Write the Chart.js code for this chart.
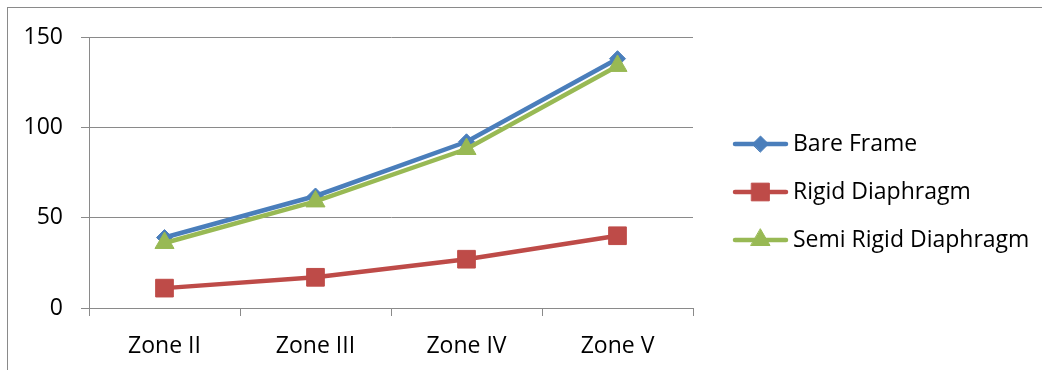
<!DOCTYPE html>
<html>
<head>
<meta charset="utf-8">
<script src="https://cdn.jsdelivr.net/npm/chart.js@4/dist/chart.umd.min.js"></script>
<style>
  html, body { margin: 0; padding: 0; background: #fff; }
  #wrap { position: relative; width: 1042px; height: 370px; overflow: hidden; }
  #frame { position: absolute; left: 7px; top: 7px; width: 1100px; height: 400px;
           border-top: 1px solid #8a8a8a; border-left: 1px solid #8a8a8a; }
  #chart { position: absolute; left: 0; top: 0; }
</style>
</head>
<body>
<div id="wrap">
  <div id="frame"></div>
  <canvas id="chart" width="1042" height="370"></canvas>
</div>
<script>
// --- data ---
const zones = ["Zone II", "Zone III", "Zone IV", "Zone V"];
const bareFrame = [39, 62, 92, 138];
const rigidDiaphragm = [11, 17, 27, 40];
const semiRigidDiaphragm = [36, 59, 88, 134];
const yTicks = [0, 50, 100, 150];

const FONT = { family: "'Open Sans', sans-serif", size: 23 };
const GRID = '#8a8a8a';

// Excel-style legend: short line with the marker in the middle, label to the right
const lineLegend = {
    id: 'lineLegend',
    afterDraw(chart, args, opts) {
        const ctx = chart.ctx;
        const x0 = chart.chartArea.right + opts.gap;
        chart.data.datasets.forEach((ds, i) => {
            const y = opts.top + i * opts.rowHeight;
            ctx.save();
            ctx.strokeStyle = ds.borderColor;
            ctx.lineWidth = ds.borderWidth;
            ctx.lineCap = 'round';
            ctx.beginPath();
            ctx.moveTo(x0 + 2, y);
            ctx.lineTo(x0 + opts.lineLength - 2, y);
            ctx.stroke();
            ctx.fillStyle = ds.pointBackgroundColor;
            ctx.strokeStyle = ds.pointBorderColor;
            ctx.lineWidth = ds.pointBorderWidth;
            Chart.helpers.drawPoint(ctx, {
                pointStyle: ds.pointStyle,
                radius: ds.pointRadius,
                borderWidth: ds.pointBorderWidth,
                rotation: 0
            }, x0 + opts.lineLength / 2, y);
            ctx.fillStyle = '#000';
            ctx.font = FONT.size + 'px ' + FONT.family;
            ctx.textBaseline = 'middle';
            ctx.textAlign = 'left';
            ctx.fillText(ds.label, x0 + opts.lineLength + 5, y);
            ctx.restore();
        });
    }
};

function series(label, data, color, style, radius, order) {
    return {
        label: label,
        data: data,
        borderColor: color,
        backgroundColor: color,
        borderWidth: 4.5,
        pointStyle: style,
        pointRadius: radius,
        pointHoverRadius: radius,
        pointBackgroundColor: color,
        pointBorderColor: color,
        pointBorderWidth: 1,
        tension: 0,
        order: order
    };
}

new Chart(document.getElementById('chart').getContext('2d'), {
    type: 'line',
    data: {
        labels: zones,
        datasets: [
            series('Bare Frame', bareFrame, '#4a7ebb', 'rectRot', 8, 3),
            series('Rigid Diaphragm', rigidDiaphragm, '#be4b48', 'rect', 12.5, 2),
            series('Semi Rigid Diaphragm', semiRigidDiaphragm, '#98b954', 'triangle', 11, 1)
        ]
    },
    options: {
        responsive: false,
        animation: false,
        layout: { padding: { top: 37, right: 349, left: 0, bottom: 0 } },
        plugins: {
            legend: { display: false },
            tooltip: { enabled: false },
            lineLegend: { gap: 40, lineLength: 55, top: 144, rowHeight: 48 }
        },
        scales: {
            x: {
                type: 'category',
                offset: true,
                grid: { offset: true, drawOnChartArea: false, drawTicks: true, tickLength: 8, color: GRID },
                border: { display: true, color: GRID, width: 1 },
                ticks: { font: FONT, color: '#000', padding: 17, maxRotation: 0 },
                afterFit(scale) { scale.height = 62; }
            },
            y: {
                min: yTicks[0],
                max: yTicks[yTicks.length - 1],
                grid: { color: GRID, tickLength: 8, lineWidth: 1 },
                border: { display: true, color: GRID, width: 1 },
                ticks: { font: FONT, color: '#000', padding: 18, stepSize: yTicks[1] - yTicks[0] },
                afterFit(scale) { scale.width = 89; }
            }
        }
    },
    plugins: [lineLegend]
});
</script>
</body>
</html>
